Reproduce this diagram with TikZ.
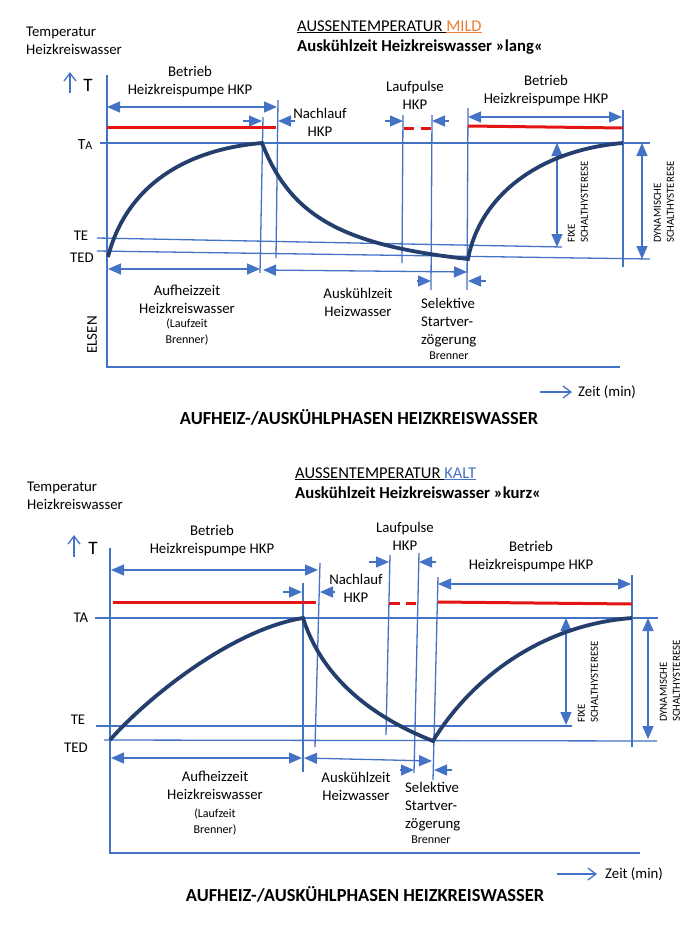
\documentclass[tikz,border=0pt]{standalone}
\usepackage{fontspec}
\setmainfont{Carlito}
\usepackage{tikz}
\usetikzlibrary{arrows.meta}

\definecolor{hkblue}{RGB}{68,114,196}
\definecolor{hknavy}{RGB}{36,63,110}
\definecolor{hkred}{RGB}{228,20,20}
\definecolor{hkorange}{RGB}{237,125,49}

\tikzset{
	tri/.tip={Triangle[length=13pt,width=11pt]},
	barb/.tip={Straight Barb[length=8pt,width=12pt]},
	guide/.style={draw=hkblue, line width=1.3pt},
	dimline/.style={guide, tri-tri},
	pointer/.style={guide, -tri},
	heat/.style={draw=hknavy, line width=3.8pt},
	pump/.style={draw=hkred, line width=3pt},
	txt/.style={font=\fontsize{14.8}{18}\selectfont, inner sep=0pt, align=center},
	small/.style={font=\fontsize{12}{16}\selectfont, inner sep=0pt, align=center},
	vlabel/.style={font=\fontsize{10.8}{13}\selectfont, inner sep=0pt, rotate=90, anchor=west, align=left},
	head/.style={font=\fontsize{16.5}{20}\selectfont, inner sep=0pt, anchor=base west},
	phase/.style={font=\fontsize{18.4}{20}\selectfont\bfseries, inner sep=0pt}
}

\begin{document}
\begin{tikzpicture}[x=1pt,y=-1pt]
	\useasboundingbox (0,0) rectangle (700,929);

	%%% top: mild
	\node[txt, anchor=west, align=left] (tempA) at (26,41) {Temperatur\\Heizkreiswasser};
	\node[head] (headA) at (297,31) {\underline{AUSSENTEMPERATUR\ }\textcolor{hkorange}{\underline{MILD}}};
	\node[head, font=\fontsize{16.7}{20}\selectfont\bfseries] (subA) at (297,51) {Auskühlzeit Heizkreiswasser »lang«};
	\draw[guide, -barb] (70,93) -- (70,72);		%arrow T
	\node[font=\fontsize{19}{19}\selectfont, inner sep=0pt] (tA) at (88,85) {T};

	\draw[guide] (107,75) -- (107,367) -- (620,367);	%axes
	\draw[guide] (100,143) -- (650,143);	%TA
	\draw[guide] (97,238) -- (562,247);		%TE
	\draw[guide] (97,251) -- (650,259);		%TED
	\draw[guide] (263,117) -- (260,273);	%peak
	\draw[guide] (278,100) -- (276,258);	%end Nachlauf
	\draw[guide] (403,115) -- (402,263);	%pulse left
	\draw[guide] (432,115) -- (431,290);	%pulse right
	\draw[guide] (468,108) -- (467,290);	%burner start
	\draw[guide] (623,110) -- (623,267);	%right end

	\draw[dimline] (107,107) -- (277,107);	%Betrieb left
	\draw[dimline] (468,117) -- (622,117);	%Betrieb right
	\draw[pointer] (243,121) -- (262,121);
	\draw[pointer] (295,121) -- (278,121);
	\draw[pointer] (385,121) -- (403,121);
	\draw[pointer] (449,121) -- (432,121);
	\draw[dimline] (108,269) -- (260,269);	%Aufheizzeit
	\draw[dimline] (263,270) -- (467,272);	%Auskuehlzeit
	\draw[pointer] (417,281) -- (431,281);
	\draw[pointer] (486,281) -- (468,281);
	\draw[dimline] (557,143) -- (557,247);	%fixe
	\draw[dimline] (642,143) -- (642,259);	%dynamische

	\draw[pump] (107,127) -- (276,127);
	\draw[pump] (404,128) -- (414,128);
	\draw[pump] (421,128) -- (431,128);
	\draw[pump] (468,126) -- (623,128);

	\draw[heat] (108,257) .. controls (125,190) and (180,150) .. (262,143)
		.. controls (290,215) and (340,245) .. (468,259)
		.. controls (480,195) and (540,150) .. (623,143);

	\node[font=\fontsize{15.5}{15}\selectfont, inner sep=0pt] (taA) at (85,145) {T{\fontsize{12}{12}\selectfont A}};
	\node[txt] (teA) at (81,236) {TE};
	\node[txt] (tedA) at (82,258) {TED};
	\node[txt] (betrA1) at (190,82) {Betrieb\\Heizkreispumpe HKP};
	\node[txt] (nachA) at (320,122) {Nachlauf\\HKP};
	\node[txt] (pulsA) at (415,95) {Laufpulse\\HKP};
	\node[txt] (betrA2) at (546,91) {Betrieb\\Heizkreispumpe HKP};
	\node[txt] (aufA) at (187,299) {Aufheizzeit\\Heizkreiswasser};
	\node[small] (laufA) at (187,332) {(Laufzeit\\Brenner)};
	\node[txt] (auskA) at (358,302) {Auskühlzeit\\Heizwasser};
	\node[txt, align=left, anchor=west] (selA) at (421,323) {Selektive\\Startver-\\zögerung};
	\node[small] (brenA) at (449,356) {Brenner};
	\node[vlabel] (fixA) at (578,243) {FIXE\\SCHALTHYSTERESE};
	\node[vlabel] (dynA) at (664,243) {DYNAMISCHE\\SCHALTHYSTERESE};
	\node[font=\fontsize{15}{15}\selectfont, inner sep=0pt, rotate=90] (elsen) at (92,335) {ELSEN};

	\draw[guide, -barb] (540,392) -- (572,392);	%Zeit
	\node[txt, anchor=west] (zeitA) at (578,392) {Zeit (min)};
	\node[phase] (phaseA) at (359,417) {AUFHEIZ-/AUSKÜHLPHASEN HEIZKREISWASSER};

	%%% bottom: kalt
	\node[txt, anchor=west, align=left] (tempB) at (27,496) {Temperatur\\Heizkreiswasser};
	\node[head] (headB) at (295,478) {\underline{AUSSENTEMPERATUR\ }\textcolor{hkblue}{\underline{KALT}}};
	\node[head, font=\fontsize{16.7}{20}\selectfont\bfseries] (subB) at (295,498) {Auskühlzeit Heizkreiswasser »kurz«};
	\draw[guide, -barb] (74,557) -- (74,535);	%arrow T
	\node[font=\fontsize{19}{19}\selectfont, inner sep=0pt] (tB) at (93,548) {T};

	\draw[guide] (110,548) -- (110,853) -- (640,853);	%axes
	\draw[guide] (95,618) -- (658,618);		%TA
	\draw[guide] (96,726) -- (572,726);		%TE
	\draw[guide] (104,740) -- (657,741);	%TED
	\draw[guide] (303,583) -- (303,772);	%peak
	\draw[guide] (320,563) -- (315,747);	%end Nachlauf
	\draw[guide] (390,555) -- (386,735);	%pulse left
	\draw[guide] (419,553) -- (414,773);	%pulse right
	\draw[guide] (438,577) -- (433,780);	%burner start
	\draw[guide] (632,575) -- (632,747);	%right end

	\draw[dimline] (111,570) -- (318,570);	%Betrieb left
	\draw[dimline] (438,584) -- (631,584);	%Betrieb right
	\draw[pointer] (283,592) -- (302,592);
	\draw[pointer] (335,592) -- (320,592);
	\draw[pointer] (369,562) -- (389,562);
	\draw[pointer] (436,562) -- (419,562);
	\draw[dimline] (111,758) -- (302,758);	%Aufheizzeit
	\draw[dimline] (304,758) -- (432,761);	%Auskuehlzeit
	\draw[pointer] (400,770) -- (414,770);
	\draw[pointer] (452,770) -- (434,770);
	\draw[dimline] (566,618) -- (566,725);	%fixe
	\draw[dimline] (648,618) -- (648,739);	%dynamische

	\draw[pump] (113,602) -- (316,602);
	\draw[pump] (389,603) -- (400,603);
	\draw[pump] (406,603) -- (416,603);
	\draw[pump] (438,602) -- (632,604);

	\draw[heat] (110,740) .. controls (145,700) and (230,630) .. (303,618)
		.. controls (318,665) and (355,710) .. (433,741)
		.. controls (470,680) and (540,625) .. (632,618);

	\node[txt] (taB) at (81,618) {TA};
	\node[txt] (teB) at (78,720) {TE};
	\node[txt] (tedB) at (76,748) {TED};
	\node[txt] (betrB1) at (212,541) {Betrieb\\Heizkreispumpe HKP};
	\node[txt] (nachB) at (356,588) {Nachlauf\\HKP};
	\node[txt] (pulsB) at (405,536) {Laufpulse\\HKP};
	\node[txt] (betrB2) at (531,557) {Betrieb\\Heizkreispumpe HKP};
	\node[txt] (aufB) at (215,785) {Aufheizzeit\\Heizkreiswasser};
	\node[small] (laufB) at (215,822) {(Laufzeit\\Brenner)};
	\node[txt] (auskB) at (356,786) {Auskühlzeit\\Heizwasser};
	\node[txt, align=left, anchor=west] (selB) at (405,807) {Selektive\\Startver-\\zögerung};
	\node[small] (brenB) at (431,840) {Brenner};
	\node[vlabel] (fixB) at (588,723) {FIXE\\SCHALTHYSTERESE};
	\node[vlabel] (dynB) at (670,722) {DYNAMISCHE\\SCHALTHYSTERESE};

	\draw[guide, -barb] (557,874) -- (597,874);	%Zeit
	\node[txt, anchor=west] (zeitB) at (605,874) {Zeit (min)};
	\node[phase] (phaseB) at (365,894) {AUFHEIZ-/AUSKÜHLPHASEN HEIZKREISWASSER};
\end{tikzpicture}
\end{document}
